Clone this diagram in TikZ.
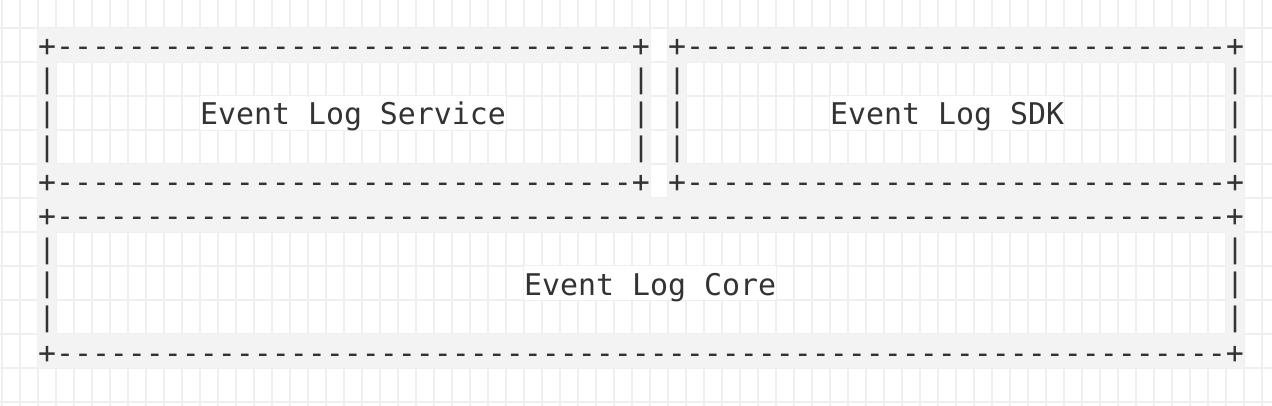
\documentclass[tikz,border=0pt]{standalone}
\usepackage{fontspec}
\setmonofont{DejaVu Sans Mono}
\definecolor{gridc}{HTML}{EFEFEF}
\definecolor{bandc}{HTML}{F3F3F3}
\definecolor{ink}{HTML}{333333}
\newcommand\dashrun[1]{\foreach \i in {1,...,#1}{-}}
\newcommand\vbar{\raisebox{2.5pt}{\scalebox{1}[0.9]{|}}}
\newcommand\cellfill[4]{\fill[#4] ({38+18*#1},{28+34*#3}) rectangle ({56+18*#2},{62+34*#3});}
\begin{document}
\begin{tikzpicture}[x=1pt,y=-1pt,
  ch/.style={anchor=base west,inner sep=0pt,outer sep=0pt,text=ink,
    font=\ttfamily\fontsize{29.9pt}{34pt}\selectfont}]
\fill[white] (0,0) rectangle (1272,406);
\useasboundingbox (0,0) rectangle (1272,406);
\begin{scope}
\clip (0,0) rectangle (1272,406);
% background grid
\foreach \k in {0,...,70} \draw[gridc,line width=2.5pt] ({2+18*\k},0) -- ({2+18*\k},406);
\foreach \r in {0,...,11} \draw[gridc,line width=2.5pt] (0,{28+34*\r}) -- (1272,{28+34*\r});
\end{scope}
% shaded character cells
\foreach \r in {0,4} {\cellfill{0}{33}{\r}{bandc} \cellfill{35}{66}{\r}{bandc}}
\foreach \r in {5,9} {\cellfill{0}{66}{\r}{bandc}}
\foreach \r in {1,2,3} {\foreach \c in {0,33,35,66} {\cellfill{\c}{\c}{\r}{bandc}}}
\foreach \r in {6,7,8} {\foreach \c in {0,66} {\cellfill{\c}{\c}{\r}{bandc}}}
\cellfill{9}{25}{2}{white}
\cellfill{44}{56}{2}{white}
\cellfill{27}{40}{7}{white}
% Event Log Service box
\node[ch] (svc-top) at ({38+18*0},57) {+\dashrun{32}+};
\node[ch] (svc-bot) at ({38+18*0},193) {+\dashrun{32}+};
\foreach \r/\b in {1/91,2/125,3/159} {
  \node[ch] (svc-l\r) at ({38+18*0},\b) {\vbar};
  \node[ch] (svc-r\r) at ({38+18*33},\b) {\vbar};
  \node[ch] (sdk-l\r) at ({38+18*35},\b) {\vbar};
  \node[ch] (sdk-r\r) at ({38+18*66},\b) {\vbar};
}
\node[ch] (service) at ({38+18*9},125) {Event Log Service};
% Event Log SDK box
\node[ch] (sdk-top) at ({38+18*35},57) {+\dashrun{30}+};
\node[ch] (sdk-bot) at ({38+18*35},193) {+\dashrun{30}+};
\node[ch] (sdk) at ({38+18*44},125) {Event Log SDK};
% Event Log Core box
\node[ch] (core-top) at ({38+18*0},227) {+\dashrun{65}+};
\node[ch] (core-bot) at ({38+18*0},363) {+\dashrun{65}+};
\foreach \r/\b in {6/261,7/295,8/329} {
  \node[ch] (core-l\r) at ({38+18*0},\b) {\vbar};
  \node[ch] (core-r\r) at ({38+18*66},\b) {\vbar};
}
\node[ch] (core) at ({38+18*27},295) {Event Log Core};
\end{tikzpicture}
\end{document}
